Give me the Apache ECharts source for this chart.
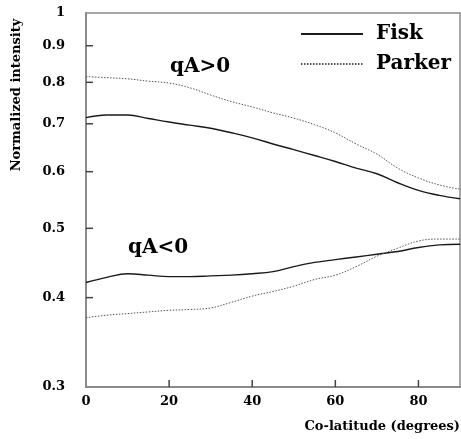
<!DOCTYPE html>
<html>
<head>
<meta charset="utf-8">
<script src="https://cdn.jsdelivr.net/npm/echarts@6/dist/echarts.min.js"></script>
<style>
  html, body { margin: 0; padding: 0; background: #fff; }
  #chart { width: 461px; height: 439px; }
</style>
</head>
<body>
<div id="chart"></div>
<script>
// co-latitude in degrees
const colat = [0, 5, 10, 15, 20, 25, 30, 35, 40, 45, 50, 55, 60, 65, 70, 75, 80, 85, 90];
// qA>0 branch
const fiskPos = [0.714, 0.720, 0.720, 0.712, 0.704, 0.697, 0.690, 0.680, 0.669, 0.656, 0.644, 0.632, 0.620, 0.607, 0.596, 0.579, 0.565, 0.556, 0.550];
const parkerPos = [0.815, 0.812, 0.809, 0.803, 0.798, 0.786, 0.768, 0.752, 0.739, 0.725, 0.713, 0.698, 0.680, 0.656, 0.635, 0.607, 0.588, 0.575, 0.567];
// qA<0 branch
const fiskNeg = [0.420, 0.427, 0.432, 0.430, 0.428, 0.428, 0.429, 0.430, 0.432, 0.435, 0.442, 0.448, 0.452, 0.456, 0.460, 0.464, 0.470, 0.474, 0.475];
const parkerNeg = [0.375, 0.378, 0.380, 0.382, 0.384, 0.385, 0.387, 0.394, 0.402, 0.408, 0.415, 0.424, 0.430, 0.442, 0.457, 0.469, 0.480, 0.483, 0.483];
// tick labels
const yTicks = [0.3, 0.4, 0.5, 0.6, 0.7, 0.8, 0.9, 1];
const xTicks = [0, 20, 40, 60, 80];

const serif = '"DejaVu Serif", "Liberation Serif", serif';
const log = (v) => Math.log10(v);
const pairs = (ys) => colat.map((x, i) => [x, log(ys[i])]);
const yMin = log(0.3);

const chart = echarts.init(document.getElementById('chart'));

const fiskStyle = { color: '#1a1a1a', width: 1.4, type: 'solid' };
const parkerStyle = { color: '#555', width: 1, type: [1.5, 1.5] };

// short inward tick marks, located through the axes (dx, dy = direction in px)
const tickSeries = (data, dx, dy) => ({
  type: 'custom', data, silent: true, clip: false, z: 5,
  renderItem: (params, api) => {
    const p = api.coord([api.value(0), api.value(1)]);
    return {
      type: 'line',
      shape: { x1: p[0], y1: p[1], x2: p[0] + dx, y2: p[1] + dy },
      style: { stroke: '#444', lineWidth: 1.5 },
    };
  },
});

chart.setOption({
  animation: false,
  grid: {
    left: 86, right: 1, top: 13, bottom: 52,
    outerBoundsMode: 'none',
    show: true, borderColor: '#8a8a8a', borderWidth: 1.5,
  },
  legend: {
    left: 295, top: 19, orient: 'vertical',
    itemWidth: 62, itemHeight: 14, itemGap: 10,
    itemStyle: { opacity: 0 },
    textStyle: { fontFamily: serif, fontWeight: 'bold', fontSize: 20, color: '#000', padding: [0, 0, 0, 8] },
    data: ['Fisk', 'Parker'],
  },
  xAxis: {
    type: 'value', min: 0, max: 90,
    axisLine: { onZero: false, lineStyle: { color: '#8a8a8a', width: 2 } },
    axisTick: { show: false },
    axisLabel: { customValues: xTicks, margin: 8, fontFamily: serif, fontWeight: 'bold', fontSize: 13, color: '#000' },
    splitLine: { show: false },
    name: 'Co-latitude (degrees)', nameLocation: 'end', nameGap: 0,
    nameTextStyle: { fontFamily: serif, fontWeight: 'bold', fontSize: 13, color: '#000', align: 'right', verticalAlign: 'top', padding: [33, 0, 0, 0] },
  },
  yAxis: {
    type: 'value', min: yMin, max: 0,
    axisLine: { show: true, onZero: false, lineStyle: { color: '#8a8a8a', width: 2 } },
    axisTick: { show: false },
    axisLabel: {
      customValues: yTicks.map(log), margin: 21,
      fontFamily: serif, fontWeight: 'bold', fontSize: 13, color: '#000',
      formatter: (v) => String(Math.round(Math.pow(10, v) * 10) / 10),
    },
    splitLine: { show: false },
  },
  graphic: [
    { type: 'text', x: 17, y: 95, rotation: Math.PI / 2,
      style: { text: 'Normalized intensity', font: 'bold 13px ' + serif, fill: '#000', align: 'center', verticalAlign: 'middle' } },
    { type: 'text', x: 170, y: 67,
      style: { text: 'qA>0', font: 'bold 20px ' + serif, fill: '#000', align: 'left', verticalAlign: 'middle' } },
    { type: 'text', x: 128, y: 248,
      style: { text: 'qA<0', font: 'bold 20px ' + serif, fill: '#000', align: 'left', verticalAlign: 'middle' } },
  ],
  series: [
    { name: 'Fisk', type: 'line', data: pairs(fiskPos), smooth: 0.4, symbol: 'none', lineStyle: fiskStyle, itemStyle: { color: '#1a1a1a' } },
    { name: 'Parker', type: 'line', data: pairs(parkerPos), smooth: 0.4, symbol: 'none', lineStyle: parkerStyle, itemStyle: { color: '#555' } },
    { name: 'Fisk', type: 'line', data: pairs(fiskNeg), smooth: 0.4, symbol: 'none', lineStyle: fiskStyle, itemStyle: { color: '#1a1a1a' } },
    { name: 'Parker', type: 'line', data: pairs(parkerNeg), smooth: 0.4, symbol: 'none', lineStyle: parkerStyle, itemStyle: { color: '#555' } },
    tickSeries(yTicks.slice(1, -1).map((v) => [0, log(v)]), 7, 0),
    tickSeries(xTicks.slice(1).map((v) => [v, yMin]), 0, -7),
  ],
});
</script>
</body>
</html>
